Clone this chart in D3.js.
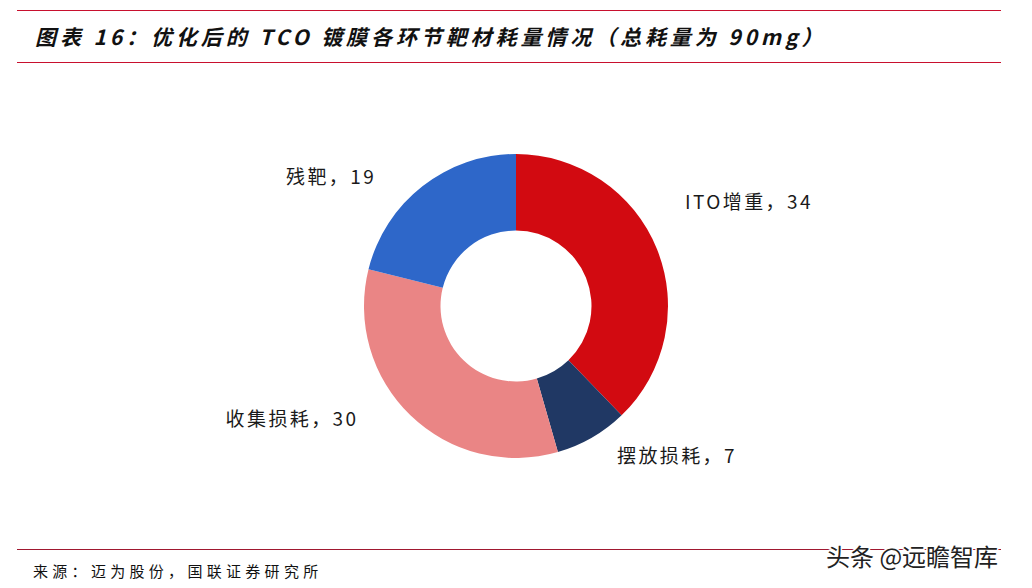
<!DOCTYPE html>
<html><head><meta charset="utf-8">
<script src="https://cdn.jsdelivr.net/npm/d3@7"></script>
<style>
html,body{margin:0;padding:0;background:#fff;}
svg{display:block;}
</style></head>
<body>
<svg id="chart" width="1032" height="588"></svg>
<script>
// ---- data ----
const categories = ["ITO增重", "摆放损耗", "收集损耗", "残靶"];
const values = [34, 7, 30, 19];
const colors = ["#D20A11", "#203864", "#EA8585", "#2E67C9"];
const titleText = "图表 16：优化后的 TCO 镀膜各环节靶材耗量情况（总耗量为 90mg）";
const sourceText = "来源：迈为股份，国联证券研究所";
const watermarkText = "头条 @远瞻智库";
// label layout nudges (presentation only)
const labelNudge = [[-2.5, -36], [8.5, -12], [-29, -22], [-26, 15]];

const svg = d3.select("#chart");
const cx = 516, cy = 306, rOuter = 152, rInner = 75.5;

// frame lines
svg.append("line").attr("x1", 17).attr("x2", 1001).attr("y1", 10.5).attr("y2", 10.5)
  .attr("stroke", "#C8102E").attr("stroke-width", 1);
svg.append("line").attr("x1", 17).attr("x2", 1001).attr("y1", 62.5).attr("y2", 62.5)
  .attr("stroke", "#C8102E").attr("stroke-width", 1);
svg.append("line").attr("x1", 17).attr("x2", 1001).attr("y1", 549.5).attr("y2", 549.5)
  .attr("stroke", "#A01830").attr("stroke-width", 1);

// title
svg.append("text").attr("x", 35).attr("y", 45)
  .attr("font-family", "'Noto Sans CJK SC', sans-serif")
  .attr("font-weight", "bold").attr("font-style", "italic")
  .attr("font-size", 21).attr("letter-spacing", 3.9)
  .attr("fill", "#111").text(titleText);

// donut
const pie = d3.pie().value(d => d).sort(null);
const arcs = pie(values);
const arc = d3.arc().innerRadius(rInner).outerRadius(rOuter);
const g = svg.append("g").attr("transform", `translate(${cx},${cy})`);
g.selectAll("path").data(arcs).join("path")
  .attr("d", arc)
  .attr("fill", (d, i) => colors[i]);

// labels
const labelArc = d3.arc().innerRadius(185).outerRadius(185);
g.selectAll("text.lbl").data(arcs).join("text")
  .attr("class", "lbl")
  .each(function (d, i) {
    const [x, y] = labelArc.centroid(d);
    const mid = (d.startAngle + d.endAngle) / 2;
    const right = mid < Math.PI;
    d3.select(this)
      .attr("x", x + labelNudge[i][0])
      .attr("y", y + labelNudge[i][1])
      .attr("text-anchor", right ? "start" : "end");
  })
  .attr("dominant-baseline", "central")
  .attr("font-family", "'Noto Sans CJK SC', sans-serif")
  .attr("font-size", 19).attr("letter-spacing", 2.4)
  .attr("fill", "#1a1a1a")
  .text((d, i) => `${categories[i]}，${values[i]}`);

// source
svg.append("text").attr("x", 33).attr("y", 577)
  .attr("font-family", "'Noto Sans CJK SC', sans-serif")
  .attr("font-size", 15).attr("letter-spacing", 4.3)
  .attr("fill", "#111").text(sourceText);

// watermark
svg.append("text").attr("x", 826).attr("y", 566)
  .attr("font-family", "'Noto Sans CJK SC', sans-serif")
  .attr("font-size", 24)
  .attr("fill", "#222").attr("stroke", "#fff").attr("stroke-width", 3)
  .attr("paint-order", "stroke")
  .text(watermarkText);
</script>
</body></html>
